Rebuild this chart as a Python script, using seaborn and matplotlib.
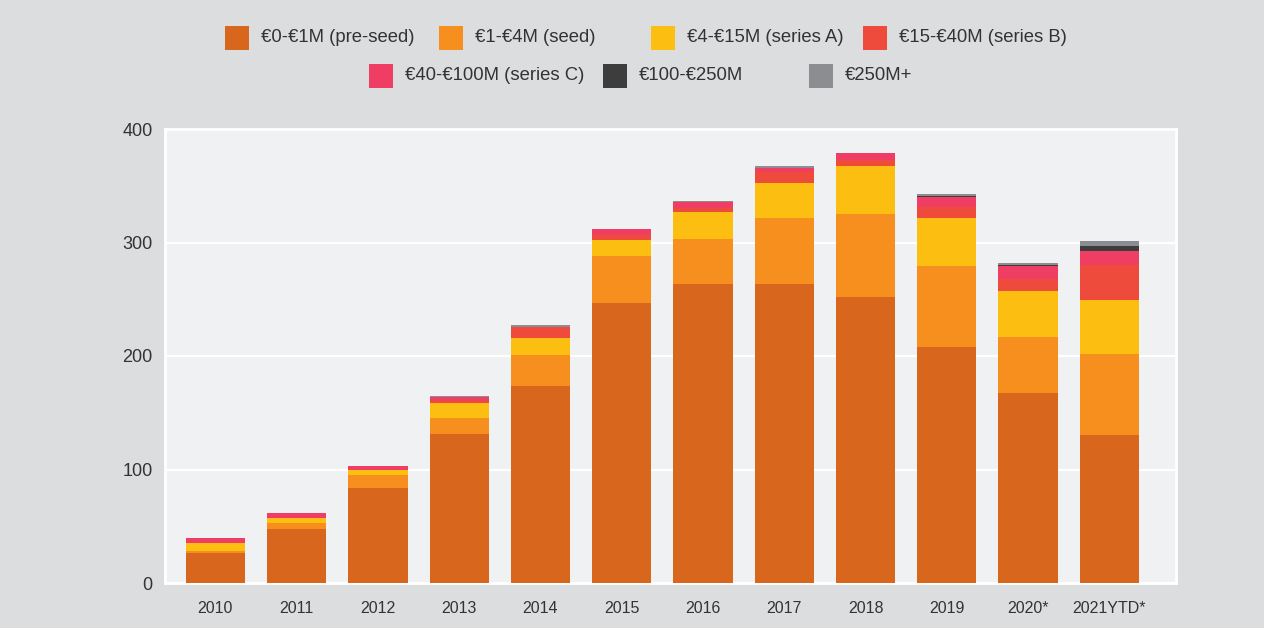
import numpy as np
import pandas as pd
import matplotlib
matplotlib.use("Agg")
import matplotlib.pyplot as plt
import matplotlib.patches as mpatches
import seaborn as sns

# Data (number of deals per round size)
years = ['2010', '2011', '2012', '2013', '2014', '2015', '2016', '2017',
         '2018', '2019', '2020*', '2021YTD*']
pre_seed = [26, 48, 84, 131, 174, 247, 263, 263, 252, 208, 167, 130]
seed = [2, 5, 11, 14, 27, 41, 40, 59, 73, 71, 50, 72]
series_a = [7, 4, 5, 14, 15, 14, 24, 30, 42, 43, 40, 47]
series_b = [0, 0, 0, 1.5, 9.5, 4.5, 3, 10.5, 6, 9, 11, 31.5]
series_c = [5, 5, 3.5, 3, 0, 5.5, 5.5, 3.5, 5.5, 9, 11, 12]
m100_250 = [0, 0, 0, 0, 0, 0, 0, 0, 0, 1, 1, 4.5]
m250_plus = [0, 0, 0, 1.5, 1.5, 0, 1.5, 1.5, 0, 1.5, 1.5, 4.5]

labels = ['€0-€1M (pre-seed)', '€1-€4M (seed)', '€4-€15M (series A)',
          '€15-€40M (series B)', '€40-€100M (series C)', '€100-€250M', '€250M+']
colors = ['#D8661C', '#F78F1E', '#FDBE12', '#EF4B3C', '#EF3D63', '#3D3D3D', '#8C8D91']

series = [pre_seed, seed, series_a, series_b, series_c, m100_250, m250_plus]
df = pd.DataFrame({lab: vals for lab, vals in zip(labels, series)}, index=years)
cum = df.cumsum(axis=1)

plt.rcParams['font.family'] = ['Liberation Sans', 'DejaVu Sans']
W, H = 1264, 628
fig = plt.figure(figsize=(W / 100, H / 100), dpi=100, facecolor='#DCDDDF')
ax = fig.add_axes([165 / W, 1 - 583 / H, (1176 - 165) / W, (583 - 129) / H])
ax.set_facecolor('#F0F1F3')

# stacked bars: draw cumulative totals from the top segment down
for lab, col in reversed(list(zip(labels, colors))):
    sns.barplot(x=years, y=cum[lab].values, color=col, saturation=1,
                width=0.73, errorbar=None, linewidth=0, ax=ax, zorder=3)

ax.set_ylim(0, 400)
ax.set_xlim(-0.62, 11.82)
ax.set_yticks([0, 100, 200, 300, 400])
ax.grid(axis='y', color='white', linewidth=1.6, zorder=1)
ax.grid(axis='x', visible=False)
ax.set_axisbelow(True)
for s in ax.spines.values():
    s.set_color('white')
    s.set_linewidth(2)
ax.tick_params(axis='both', length=0, colors='#333333')
ax.tick_params(axis='y', labelsize=13, pad=9)
ax.tick_params(axis='x', labelsize=11.5, pad=13)
ax.set_xlabel('')
ax.set_ylabel('')

# legend laid out on a fixed grid like the original
patch_pos = [(225, 38), (439, 38), (651, 38), (863, 38),
             (369, 76), (603, 76), (809, 76)]
for (px, py), lab, col in zip(patch_pos, labels, colors):
    fig.add_artist(mpatches.Rectangle((px / W, 1 - (py + 12) / H), 24 / W, 24 / H,
                                      transform=fig.transFigure, color=col, lw=0))
    fig.text((px + 36) / W, 1 - py / H, lab, fontsize=13.3, color='#333333',
             va='center', ha='left')

fig.savefig('out.png', dpi=100, facecolor=fig.get_facecolor())
